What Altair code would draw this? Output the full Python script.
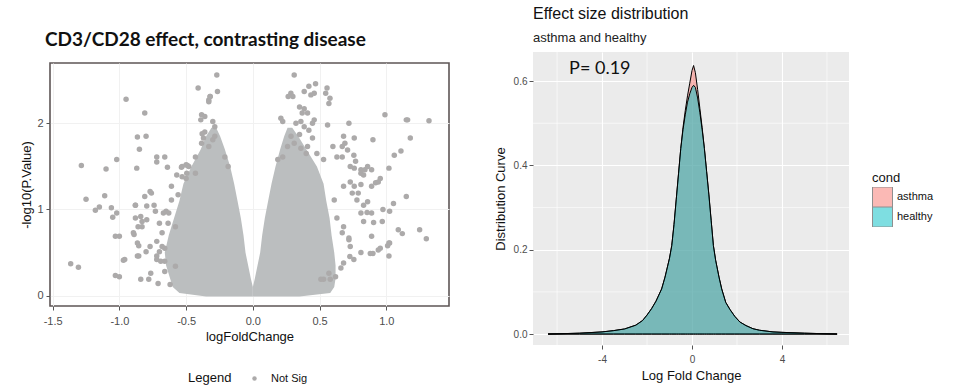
import altair as alt
import pandas as pd

# ---------------- Volcano plot (left) ----------------
# individual scattered genes (logFC, -log10 p)
pts_x = [-1.365, -1.307, -1.285, -1.25, -1.18, -1.15, -1.10, -1.11, -1.05, -1.03, -1.0, -1.02, -1.02,
         -1.03, -1.0, -0.95, -0.96, -0.89, -0.88, -0.87, -0.865, -0.81, -0.80, -0.85, -0.83, -0.855,
         -0.84, -0.81, -0.855, -0.78, -0.80, -0.76, -0.73, -0.72, -0.66, -0.72, -0.64, -0.57, -0.535,
         -0.49, -0.50, -0.88, -0.795, -0.74, -0.795, -0.88, -0.895, -0.86, -0.83, -0.865, -0.77, -0.865,
         -0.97, -0.84, -0.765, -0.71, -0.66, -0.66, -0.72, -0.70, -0.66, -0.72, -0.635, -0.70, -0.67,
         -0.65, -0.61, -0.56, -0.62, -1.06, -0.77, -0.69, -0.68, -0.61, -0.53, -0.58, -0.68, -0.72,
         -0.63, -0.58, -0.53, -0.50, -0.43,
         -0.41, -0.33, -0.32, -0.27, -0.265, -0.32, -0.33, -0.384, -0.39, -0.30, -0.285, -0.36, -0.37,
         -0.30, -0.285, -0.33, -0.384, -0.43, -0.48, -0.495, -0.21, -0.185, -0.38, -0.36,
         0.31, 0.30, 0.42, 0.385, 0.435, 0.285, 0.265, 0.35, 0.385, 0.41, 0.37, 0.21, 0.224, 0.323, 0.36,
         0.385, 0.42, 0.447, 0.447, 0.286, 0.35, 0.31, 0.26, 0.224, 0.187, 0.36, 0.41, 0.40,
         0.47, 0.46, 0.46, 0.556, 0.546, 0.578, 0.57, 0.56, 0.72, 0.68, 0.69, 0.76, 0.67,
         0.99, 1.15, 1.16, 1.32, 1.18, 0.90, 1.11, 1.06, 1.02, 0.955, 0.89, 0.83, 0.71, 0.67, 0.757,
         0.77, 0.73, 0.81, 0.86, 0.92, 0.84, 0.81, 0.76, 0.73, 0.76, 0.79, 0.86,
         1.15, 1.25, 1.30, 1.09, 1.12, 1.025, 1.01, 1.02, 0.94, 0.88, 0.81, 0.757, 0.727, 0.89, 1.054,
         1.025, 0.975, 0.97, 0.89, 0.856, 0.83, 0.905, 0.81, 0.89, 0.94, 0.745, 0.78, 0.81, 0.83,
         0.68, 0.72, 0.73, 0.66, 0.62, 0.58, 0.53, 0.63, 0.67, 0.61, 0.68, 0.63, 0.60, 0.53, 0.48,
         0.72, 0.68, 0.57, 0.51, 0.90, 0.955, 1.02]
pts_y = [0.37, 0.33, 1.51, 1.12, 0.99, 1.03, 1.47, 1.16, 0.91, 0.69, 0.69, 1.58, 0.96,
         0.235, 0.22, 2.28, 0.42, 0.71, 1.05, 1.48, 1.84, 2.12, 1.85, 1.70, 0.86, 0.46,
         0.92, 1.15, 0.58, 0.19, 0.51, 1.19, 0.98, 1.61, 1.61, 1.55, 1.49, 1.40, 1.49,
         1.51, 1.36, 1.05, 1.04, 1.05, 0.88, 0.90, 0.73, 0.80, 0.80, 0.61, 0.57, 0.46,
         0.41, 0.19, 0.26, 0.14, 0.40, 0.28, 0.42, 0.51, 0.55, 0.63, 0.84, 0.84, 0.96,
         0.98, 1.11, 1.17, 0.13, 1.02, 1.21, 0.40, 0.73, 1.27, 1.38, 0.34, 0.57, 0.46,
         0.96, 0.80, 1.50, 1.52, 1.42,
         2.41, 2.27, 2.31, 2.56, 2.37, 2.31, 2.25, 2.10, 2.04, 2.02, 1.96, 1.90, 1.83,
         1.81, 1.85, 1.73, 1.77, 1.61, 1.50, 1.42, 1.61, 1.50, 1.88, 2.08,
         2.56, 2.31, 2.43, 2.37, 2.33, 2.35, 2.31, 2.19, 2.17, 2.12, 2.12, 2.06, 2.02, 2.00, 2.02,
         1.96, 1.92, 2.00, 1.83, 1.85, 1.87, 1.77, 1.73, 1.61, 1.58, 1.71, 1.73, 1.65,
         2.46, 2.35, 2.04, 2.41, 2.35, 2.29, 2.23, 1.98, 2.00, 1.85, 1.77, 1.83, 1.73,
         2.10, 2.04, 2.04, 2.03, 1.83, 1.81, 1.68, 1.63, 1.48, 1.36, 1.46, 1.40, 1.69, 1.61, 1.63,
         1.56, 1.50, 1.46, 1.50, 1.31, 1.46, 1.42, 1.48, 1.32, 1.27, 1.19, 1.09,
         1.15, 0.765, 0.66, 0.765, 0.72, 0.61, 0.58, 0.46, 0.53, 0.49, 0.50, 0.42, 0.455, 0.69, 1.07,
         0.98, 1.00, 0.86, 0.96, 0.965, 0.86, 0.85, 1.29, 1.27, 1.32, 1.19, 1.11, 0.96, 1.05,
         0.80, 0.65, 0.57, 0.32, 0.22, 0.19, 0.19, 0.90, 0.73, 1.11, 1.27, 1.61, 1.73, 1.58, 1.65,
         0.67, 0.38, 0.26, 0.19, 0.49, 0.55, 0.61]

# the dense V-shaped cloud of genes: for each -log10 p level, its left and right edge
cloud_y = [-0.01, 0.03, 0.1, 0.2, 0.35, 0.5, 0.7, 0.9, 1.1, 1.3, 1.5, 1.7, 1.85, 1.95]
left_outer = [-0.35, -0.55, -0.60, -0.62, -0.65, -0.66, -0.63, -0.59, -0.55, -0.52, -0.46, -0.39, -0.35, -0.31]
left_inner = [0.0, 0.0, 0.0, -0.015, -0.035, -0.055, -0.07, -0.09, -0.115, -0.14, -0.17, -0.21, -0.245, -0.275]
right_inner = [0.0, 0.0, 0.0, 0.015, 0.035, 0.055, 0.07, 0.09, 0.115, 0.14, 0.17, 0.205, 0.235, 0.26]
right_outer = [0.35, 0.58, 0.61, 0.62, 0.62, 0.61, 0.59, 0.575, 0.55, 0.53, 0.48, 0.40, 0.34, 0.295]

volc_ticks = [-1.5, -1.0, -0.5, 0.0, 0.5, 1.0]

# ---------------- Density plot (right) ----------------
dens_x = [-6.4, -5.0, -4.0, -3.5, -3.0, -2.5, -2.2, -2.0, -1.8, -1.6, -1.35, -1.2, -1.0, -0.9, -0.8,
          -0.7, -0.6, -0.5, -0.4, -0.3, -0.2, -0.1, 0.0, 0.07, 0.15, 0.25, 0.35, 0.45, 0.55, 0.65,
          0.75, 0.85, 0.95, 1.05, 1.2, 1.32, 1.5, 1.69, 1.9, 2.13, 2.4, 2.71, 3.0, 3.6, 4.0, 5.0, 6.45]
healthy_y = [0.0, 0.002, 0.005, 0.008, 0.012, 0.021, 0.032, 0.045, 0.06, 0.078, 0.107, 0.135, 0.18, 0.21,
             0.26, 0.32, 0.38, 0.44, 0.485, 0.52, 0.55, 0.57, 0.585, 0.59, 0.585, 0.56, 0.525, 0.485,
             0.44, 0.385, 0.33, 0.27, 0.21, 0.175, 0.135, 0.107, 0.075, 0.058, 0.042, 0.0285, 0.02,
             0.0126, 0.009, 0.005, 0.004, 0.002, 0.0]
asthma_y = [0.0, 0.002, 0.005, 0.008, 0.012, 0.021, 0.032, 0.045, 0.06, 0.078, 0.107, 0.135, 0.18, 0.21,
            0.26, 0.32, 0.38, 0.44, 0.49, 0.53, 0.565, 0.595, 0.625, 0.637, 0.62, 0.58, 0.535, 0.49,
            0.44, 0.385, 0.33, 0.27, 0.21, 0.175, 0.135, 0.107, 0.075, 0.058, 0.042, 0.0285, 0.02,
            0.0126, 0.009, 0.005, 0.004, 0.002, 0.0]
conds = ["asthma", "healthy"]
dens_major_x = [-4, 0, 4]
dens_major_y = [0.0, 0.2, 0.4, 0.6]
dens_minor_x = [-6, -2, 2, 6]
dens_minor_y = [0.1, 0.3, 0.5]

# ---------------- build tables ----------------
pts = pd.DataFrame({"x": pts_x, "y": pts_y, "sig": "Not Sig"})
cloud = pd.concat([
    pd.DataFrame({"wing": "L", "y": cloud_y, "xa": left_outer, "xb": left_inner}),
    pd.DataFrame({"wing": "R", "y": cloud_y, "xa": right_inner, "xb": right_outer}),
])
n = len(dens_x)
dens = pd.DataFrame({"x": dens_x + dens_x, "y": asthma_y + healthy_y,
                     "cond": [conds[0]] * n + [conds[1]] * n})

GREY = "#BBBEBF"
LABEL = "#4D4D4D"
SANS = "Liberation Sans"
HYPHEN = "replace(format(datum.value, '.1f'), '\u2212', '-')"

vx_scale = alt.Scale(domain=[-1.52, 1.47], nice=False, zero=False)
vy_scale = alt.Scale(domain=[-0.12, 2.70], nice=False, zero=False)
vx_axis = alt.Axis(values=volc_ticks, labelExpr=HYPHEN, title="logFoldChange", grid=True, gridColor="#F1F1F1",
                   domain=False, tickColor="#555", tickSize=4, labelColor=LABEL, labelFontSize=11,
                   titleFontSize=13, titleFontWeight="normal", titleColor="#111", labelPadding=5, titlePadding=4)
vy_axis = alt.Axis(values=[0, 1, 2], format="d", title="-log10(P.Value)", grid=True, gridColor="#F1F1F1",
                   domain=False, tickColor="#555", tickSize=4, labelColor=LABEL, labelFontSize=11,
                   titleFontSize=13, titleFontWeight="normal", titleColor="#111", labelPadding=3, titlePadding=3)

cloud_layer = alt.Chart(cloud).mark_area(orient="horizontal", color=GREY, opacity=1).encode(
    y=alt.Y("y:Q", scale=vy_scale, axis=vy_axis),
    x=alt.X("xa:Q", scale=vx_scale, axis=vx_axis),
    x2="xb:Q",
    detail="wing:N",
)
pts_layer = alt.Chart(pts).mark_circle(size=30, opacity=1).encode(
    x=alt.X("x:Q", scale=vx_scale, axis=vx_axis),
    y=alt.Y("y:Q", scale=vy_scale, axis=vy_axis),
    color=alt.Color("sig:N", scale=alt.Scale(domain=["Not Sig"], range=["#ACAAAA"]),
                    legend=alt.Legend(title="Legend", orient="none", legendX=138, legendY=321,
                                      direction="horizontal", titleOrient="left", titleFontSize=13,
                                      titleFontWeight="normal", titleColor="#111", labelFontSize=11,
                                      labelColor="#111", symbolSize=20, symbolType="circle",
                                      titlePadding=17, labelOffset=11)),
)
volcano = alt.layer(cloud_layer, pts_layer).properties(
    width=399, height=243,
    view=alt.ViewBackground(stroke="#5E5656", strokeWidth=1.6, fill="white"),
)

spacer = alt.Chart(pd.DataFrame({"sx": [0], "sy": [0]})).mark_point(opacity=0).encode(
    x=alt.X("sx:Q", axis=None), y=alt.Y("sy:Q", axis=None)
).properties(
    width=399, height=10,
    view=alt.ViewBackground(stroke=None),
    title=alt.TitleParams("CD3/CD28 effect, contrasting disease", anchor="start", frame="group", dx=-5,
                          font="Lato", fontSize=19, fontWeight="bold", color="#111", offset=2),
)
left = alt.vconcat(spacer, volcano, spacing=0)

# ---------------- right panel ----------------
dx_scale = alt.Scale(domain=[-7.07, 6.98], nice=False, zero=False)
dy_scale = alt.Scale(domain=[-0.026, 0.669], nice=False, zero=False)

minor_x = alt.Chart(pd.DataFrame({"mx": dens_minor_x})).mark_rule(color="white", strokeWidth=0.6).encode(
    x=alt.X("mx:Q", scale=dx_scale))
minor_y = alt.Chart(pd.DataFrame({"my": dens_minor_y})).mark_rule(color="white", strokeWidth=0.6).encode(
    y=alt.Y("my:Q", scale=dy_scale))

dens_layer = alt.Chart(dens).mark_area(stroke="black", strokeWidth=1, fillOpacity=0.5).encode(
    x=alt.X("x:Q", scale=dx_scale,
            axis=alt.Axis(values=dens_major_x, labelExpr="replace(format(datum.value, 'd'), '\u2212', '-')",
                          title="Log Fold Change", grid=True,
                          gridColor="white", gridWidth=1.1, domain=False, tickColor="#555", tickSize=4,
                          labelColor=LABEL, labelFontSize=10, titleFontSize=13, titleFontWeight="normal",
                          titleColor="#111", labelPadding=5, titlePadding=5)),
    y=alt.Y("y:Q", stack=None, scale=dy_scale,
            axis=alt.Axis(values=dens_major_y, format=".1f", title="Distribution Curve", grid=True,
                          gridColor="white", gridWidth=1.1, domain=False, tickColor="#555", tickSize=4,
                          labelColor=LABEL, labelFontSize=10, titleFontSize=13, titleFontWeight="normal",
                          titleColor="#111", labelPadding=2, titlePadding=6)),
    color=alt.Color("cond:N", scale=alt.Scale(domain=conds, range=["#F8766D", "#00BFC4"]),
                    legend=alt.Legend(title="cond", orient="none", legendX=339, legendY=120,
                                      titleFontSize=13, titleFontWeight="normal", titleColor="#111",
                                      labelFontSize=11, labelColor="#111", symbolType="square",
                                      symbolSize=400, symbolOpacity=0.5, symbolStrokeColor="#222",
                                      symbolStrokeWidth=1, clipHeight=20, rowPadding=0, titlePadding=2)),
    order=alt.Order("cond:N"),
)
ptext = alt.Chart(pd.DataFrame({"t": ["P= 0.19"]})).mark_text(
    font="Lato", fontSize=18, color="#111", align="center", baseline="middle"
).encode(x=alt.datum(-4.1), y=alt.datum(0.629), text="t:N")

density = alt.layer(minor_x, minor_y, dens_layer, ptext).properties(
    width=316, height=293,
    view=alt.ViewBackground(fill="#EBEBEB", stroke=None),
    title=alt.TitleParams("Effect size distribution", subtitle="asthma and healthy", anchor="start",
                          frame="group", font=SANS, fontSize=16, fontWeight="normal", color="#111",
                          subtitleFont=SANS, subtitleFontSize=13, subtitleColor="#222",
                          subtitlePadding=10, offset=7),
)

chart = alt.hconcat(left, density, spacing=44).resolve_scale(color="independent").resolve_legend(
    color="independent"
).properties(
    padding={"left": 20, "top": 5, "right": 5, "bottom": 5},
    background="white",
).configure(font=SANS).configure_view(stroke=None)

chart.save("out.html", embed_options={"renderer": "svg", "actions": False})
